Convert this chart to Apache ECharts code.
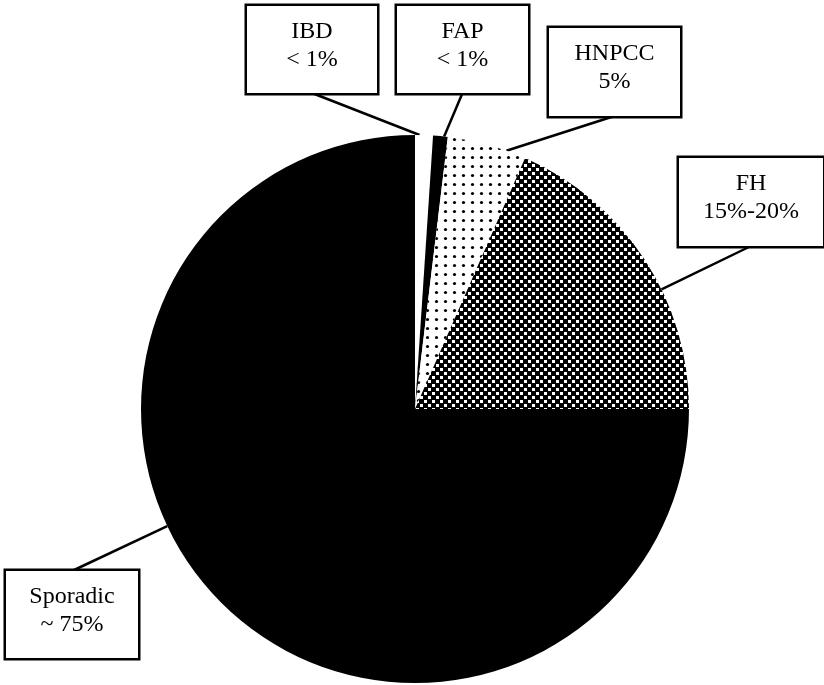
<!DOCTYPE html>
<html>
<head>
<meta charset="utf-8">
<title>Colorectal cancer causes</title>
<script src="https://cdn.jsdelivr.net/npm/echarts@6/dist/echarts.min.js"></script>
<style>
  html, body { margin: 0; padding: 0; background: #fff; }
  #chart { width: 824px; height: 685px; }
</style>
</head>
<body>
<div id="chart"></div>
<script>
const categories = ['IBD', 'FAP', 'HNPCC', 'FH', 'Sporadic']
const values = [1.05, 0.86, 4.67, 18.42, 75]
const shareLabels = ['< 1%', '< 1%', '5%', '15%-20%', '~ 75%']

// label boxes: left, top, width, height (px)
const boxes = [
    [247, 6, 130, 87],
    [397, 6, 131, 87],
    [549, 28, 131, 88],
    [679, 158, 144, 88],
    [6, 571, 132, 87]
]

const center = [415, 409]
const radius = 274

// small canvas tiles for the two patterned slices
function makeTile(size, draw) {
    const c = document.createElement('canvas')
    c.width = size
    c.height = size
    draw(c.getContext('2d'))
    return { image: c, repeat: 'repeat' }
}

const dots = makeTile(9, ctx => {
    ctx.fillStyle = '#fff'
    ctx.fillRect(0, 0, 9, 9)
    ctx.fillStyle = '#000'
    ctx.beginPath()
    ctx.arc(4.5, 4.5, 1.6, 0, Math.PI * 2)
    ctx.fill()
})

const checker = makeTile(8, ctx => {
    ctx.fillStyle = '#000'
    ctx.fillRect(0, 0, 8, 8)
    ctx.fillStyle = '#fff'
    ctx.fillRect(0, 0, 3, 3)
    ctx.fillRect(4, 4, 3, 3)
})

const fills = ['#fff', '#000', dots, checker, '#000']

// angular span of every slice, clockwise from 12 o'clock
const total = values.reduce((a, b) => a + b, 0)
let acc = 0
const spans = values.map(v => {
    const a0 = acc / total * 360
    acc += v
    return [a0, acc / total * 360]
})

// point on the rim of slice i closest to (tx, ty), kept in the middle half of the slice
function rimPoint(i, tx, ty) {
    const [a0, a1] = spans[i]
    const q = (a1 - a0) / 4
    const lo = a0 + q
    const hi = a1 - q
    let ang = Math.atan2(tx - center[0], center[1] - ty) * 180 / Math.PI
    if (ang < 0) ang += 360
    if (ang < lo || ang > hi) {
        const dLo = Math.min(Math.abs(ang - lo), 360 - Math.abs(ang - lo))
        const dHi = Math.min(Math.abs(ang - hi), 360 - Math.abs(ang - hi))
        ang = dLo < dHi ? lo : hi
    }
    const rad = ang * Math.PI / 180
    return [center[0] + radius * Math.sin(rad), center[1] - radius * Math.cos(rad)]
}

const chart = echarts.init(document.getElementById('chart'))

const option = {
    backgroundColor: '#fff',
    animation: false,
    series: [{
        type: 'pie',
        center: center,
        radius: radius,
        startAngle: 90,
        clockwise: true,
        avoidLabelOverlap: false,
        emphasis: { disabled: true },
        itemStyle: { borderWidth: 0 },
        label: {
            show: true,
            position: 'outside',
            formatter: p => p.name + '\n' + shareLabels[p.dataIndex],
            fontFamily: 'Liberation Serif',
            fontSize: 24,
            lineHeight: 28,
            color: '#000',
            backgroundColor: '#fff',
            borderColor: '#000',
            borderWidth: 2.5
        },
        labelLine: {
            show: true,
            length: 5,
            length2: 5,
            lineStyle: { color: '#000', width: 2.5 }
        },
        labelLayout: function (params) {
            const i = params.dataIndex
            const [left, top, w, h] = boxes[i]
            const ax = left + w / 2
            const ay = top + h / 2 < center[1] ? top + h : top
            const p = rimPoint(i, ax, ay)
            return {
                x: ax,
                y: top,
                align: 'center',
                verticalAlign: 'top',
                labelLinePoints: [p, [ax, ay], [ax, ay]]
            }
        },
        data: categories.map((name, i) => ({
            name: name,
            value: values[i],
            itemStyle: { color: fills[i] },
            label: {
                width: boxes[i][2],
                padding: [12, 0, boxes[i][3] - 68, 0]
            }
        }))
    }]
}

chart.setOption(option)
</script>
</body>
</html>
